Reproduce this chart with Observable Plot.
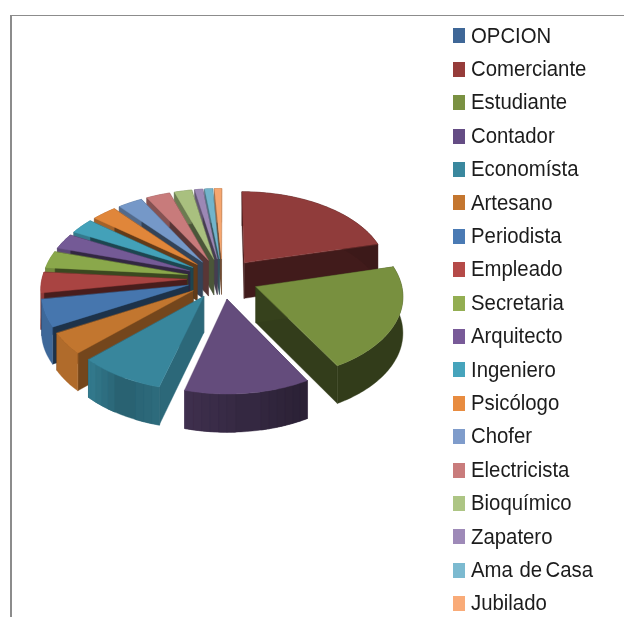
<!DOCTYPE html>
<html>
<head>
<meta charset="utf-8">
<script src="https://cdn.jsdelivr.net/npm/d3@7"></script>
<script src="https://cdn.jsdelivr.net/npm/@observablehq/plot@0.6"></script>
<style>
html,body{margin:0;padding:0;background:#fff;overflow:hidden}
#page{position:relative;width:624px;height:617px;overflow:hidden}
#frame{position:absolute;left:10px;top:15px;right:0;bottom:0;border-left:2px solid #8c8c8c;border-top:1.5px solid #8c8c8c}
#chart{position:absolute;left:0;top:0}
#chart svg{display:block;filter:blur(.4px)}
#legend{position:absolute;left:453px;top:19.3px;font-family:"Liberation Sans",Arial,sans-serif;font-size:22px;color:#1c1c1c;filter:blur(.35px)}
#legend div{height:33.4px;line-height:33.4px;white-space:pre;display:flex;align-items:center}
#legend i{display:inline-block;flex:none;width:12px;height:15px;margin-right:6px}
#legend span{display:inline-block;line-height:1.117;transform:scaleX(.925);transform-origin:left center;word-spacing:-2.5px}
</style>
</head>
<body>
<div id="page"><div id="frame"></div><div id="chart"></div><div id="legend"></div></div>
<script>
const categories = ["OPCION","Comerciante","Estudiante","Contador","Economísta","Artesano","Periodista","Empleado","Secretaria","Arquitecto","Ingeniero","Psicólogo","Chofer","Electricista","Bioquímico","Zapatero","Ama  de Casa","Jubilado"];
const shares = [0,21.1,20.6,12.5,8.6,4.2,5.3,4.0,3.3,3.0,3.0,3.1,3.1,3.0,2.2,1.0,1.0,0.9];
const topColors = ["#3f6797","#903c3b","#78903f","#644c7c","#38869c","#c2762f","#4676ae","#a94442","#8aa84b","#745a96","#43a1b9","#e0863a","#7598c8","#c87b7b","#a9c07f","#9c88b5","#72b4cb","#f6a66f"];
const legendColors = ["#3f6797","#963c3a","#7a9142","#644c84","#3a889e","#c4762f","#4a7ab4","#b54a48","#93ae52","#785a98","#46a4bc","#e88c40","#7f9ccb","#c97c7c","#adc584","#9e8ab8","#7cbad0","#f9ab78"];

// Projection of the tilted pie; pie radius = 1 unit
const pxPerUnit = 144.5, cx = 222, cy = 278;
const tilt = 0.57, persp = 0.1, depth = 36 / pxPerUnit, explode = 0.249;
const project = (u, v, z) => {
  const f = 1 + persp * v;
  return {X: u * f, Y: tilt * v * f + z * depth * (1 + 0.05 * v)};
};
const outerShade = d3.scaleLinear([75,150,194,196,210,226,270,360],[.42,.42,.62,.8,.72,.92,.85,.6]);
const radialShade = d3.scaleLinear([76,150,195,226,241,360],[.45,.42,.78,.6,.42,.45]);
const shaded = (c, k) => { const r = d3.rgb(c); return d3.rgb(r.r*k, r.g*k, r.b*k).formatHex(); };
const rad = d => d * Math.PI / 180;

const total = d3.sum(shares);
let cum = 0;
const slices = categories.map((name, i) => {
  const a0 = cum * 360 / total; cum += shares[i];
  const a1 = cum * 360 / total, mid = (a0 + a1) / 2;
  return {name, i, a0, a1, mid, ou: explode*Math.sin(rad(mid)), ov: -explode*Math.cos(rad(mid))};
}).filter(s => s.a1 > s.a0);
const order = d3.sort(slices, s => s.ov - Math.cos(rad(s.mid)) * .6);

const rows = [];
let pid = 0;
const poly = (color, pts) => { pid++; pts.forEach(p => rows.push({id: pid, color, X: p.X, Y: p.Y})); };
for (const s of order) {
  const c = topColors[s.i];
  const at = (a, z) => project(s.ou + Math.sin(rad(a)), s.ov - Math.cos(rad(a)), z);
  const apex = z => project(s.ou, s.ov, z);
  const angles = d3.range(s.a0, s.a1, 1).concat([s.a1]);
  // radial walls
  poly(shaded(c, radialShade(s.a1)), [apex(0), at(s.a1,0), at(s.a1,1), apex(1)]);
  poly(shaded(c, radialShade(s.a0)), [apex(0), at(s.a0,0), at(s.a0,1), apex(1)]);
  // outer wall: one whole band underneath, then bands with the shading on it
  poly(shaded(c, outerShade(s.mid)), [...angles.map(a => at(a,0)), ...angles.slice().reverse().map(a => at(a,1))]);
  const step = 3;
  for (let a = s.a0; a < s.a1; a += step) {
    const b = Math.min(a + step, s.a1), m = d3.range(a, b, .5).concat([b]);
    const k = outerShade((a+b)/2);
    if (Math.abs(k - outerShade(s.mid)) > .02)
      poly(shaded(c, k), [...m.map(t => at(t,0)), ...m.slice().reverse().map(t => at(t,1))]);
  }
  // top face
  poly(c, [apex(0), ...angles.map(a => at(a,0))]);
}

const chart = Plot.plot({
  width: 624, height: 617,
  margin: 0,
  x: {domain: [-cx/pxPerUnit, (624-cx)/pxPerUnit], axis: null},
  y: {domain: [(617-cy)/pxPerUnit, -cy/pxPerUnit], axis: null},
  color: {type: "identity"},
  style: {background: "transparent"},
  marks: [
    Plot.line(rows, {x: "X", y: "Y", z: "id", fill: "color", stroke: "color", strokeWidth: 0.4, curve: "linear-closed"})
  ]
});
document.getElementById("chart").appendChild(chart);

const legend = document.getElementById("legend");
categories.forEach((name, i) => {
  const row = document.createElement("div");
  const sw = document.createElement("i");
  sw.style.background = legendColors[i];
  const label = document.createElement("span");
  label.textContent = name;
  row.appendChild(sw);
  row.appendChild(label);
  legend.appendChild(row);
});
</script>
</body>
</html>
